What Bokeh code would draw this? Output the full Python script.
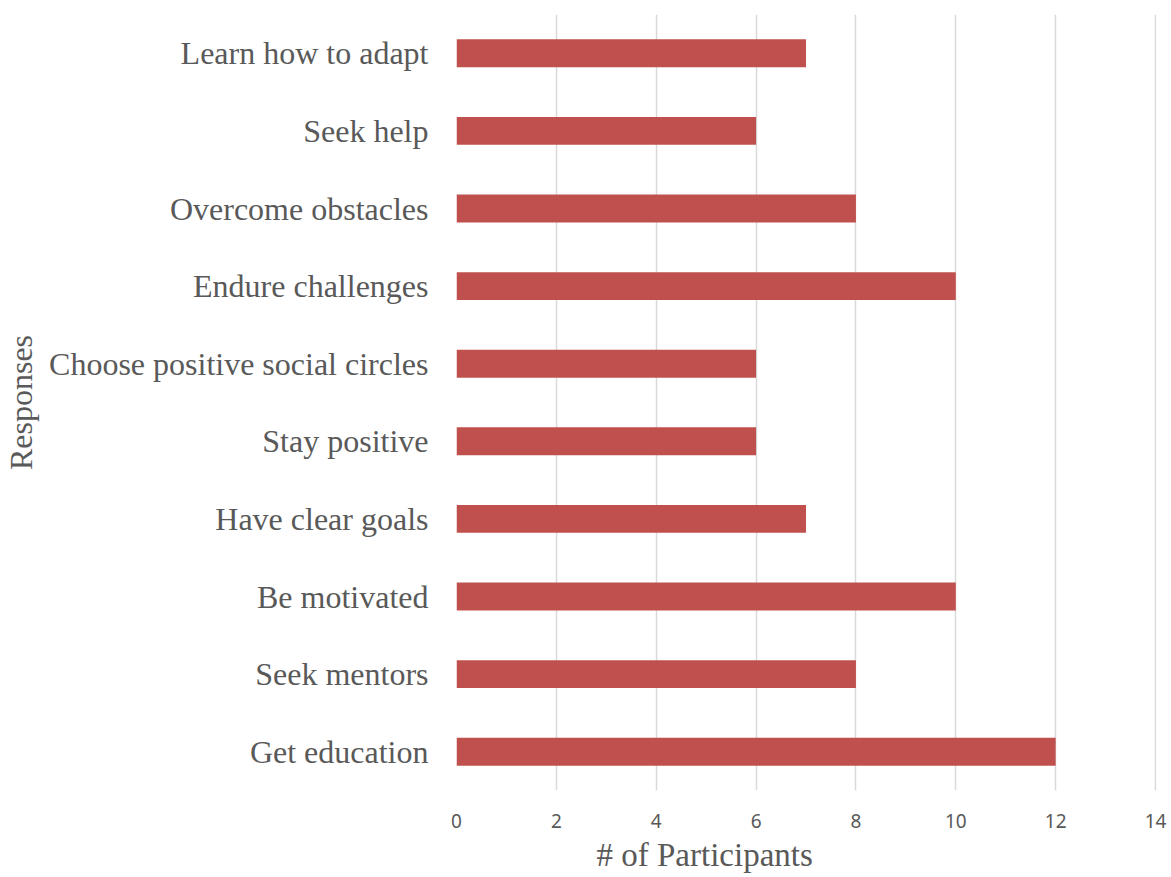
from bokeh.plotting import figure
from bokeh.models import FactorRange, Range1d, FixedTicker, Title
from bokeh.embed import file_html
from bokeh.resources import INLINE

categories = [
    "Get education",
    "Seek mentors",
    "Be motivated",
    "Have clear goals",
    "Stay positive",
    "Choose positive social circles",
    "Endure challenges",
    "Overcome obstacles",
    "Seek help",
    "Learn how to adapt",
]
participants = [12, 8, 10, 7, 6, 6, 10, 8, 6, 7]
x_ticks = [0, 2, 4, 6, 8, 10, 12, 14]

TEXT = "#595959"
SERIF = "Liberation Serif"

p = figure(
    width=1171, height=877,
    y_range=FactorRange(factors=categories),
    x_range=Range1d(0, 14.02),
    output_backend="svg", toolbar_location=None,
    min_border_left=456, min_border_right=15, min_border_top=14, min_border_bottom=87,
)
p.outline_line_color = None
p.background_fill_color = "white"
p.border_fill_color = "white"

p.hbar(y=categories, right=participants, height=0.36, left=0,
       fill_color="#C0504D", line_color=None)

# x axis
p.xaxis.ticker = FixedTicker(ticks=x_ticks)
p.xaxis.axis_line_color = None
p.xaxis.major_tick_line_color = None
p.xaxis.minor_tick_line_color = None
p.xaxis.major_label_text_font = "Noto Sans"
p.xaxis.major_label_text_font_size = "19px"
p.xaxis.major_label_text_color = TEXT
p.xaxis.major_label_standoff = 17

# y axis
p.yaxis.axis_line_color = None
p.yaxis.major_tick_line_color = None
p.yaxis.minor_tick_line_color = None
p.yaxis.major_label_text_font = SERIF
p.yaxis.major_label_text_font_size = "32px"
p.yaxis.major_label_text_color = TEXT
p.yaxis.major_label_standoff = 22
p.yaxis.axis_label = "Responses"
p.yaxis.axis_label_text_font = SERIF
p.yaxis.axis_label_text_font_size = "32px"
p.yaxis.axis_label_text_font_style = "normal"
p.yaxis.axis_label_text_color = TEXT
p.yaxis.axis_label_standoff = 7

# grid
p.ygrid.grid_line_color = None
p.xgrid.ticker = FixedTicker(ticks=x_ticks)
p.xgrid.grid_line_color = "#D9D9D9"
p.xgrid.grid_line_width = 1.5

# x axis title
t = Title(text="# of Participants", align="left", offset=140,
          text_font=SERIF, text_font_size="33px", text_font_style="normal",
          text_color=TEXT, standoff=9)
p.add_layout(t, "below")

open("out.html", "w").write(file_html(p, INLINE))
